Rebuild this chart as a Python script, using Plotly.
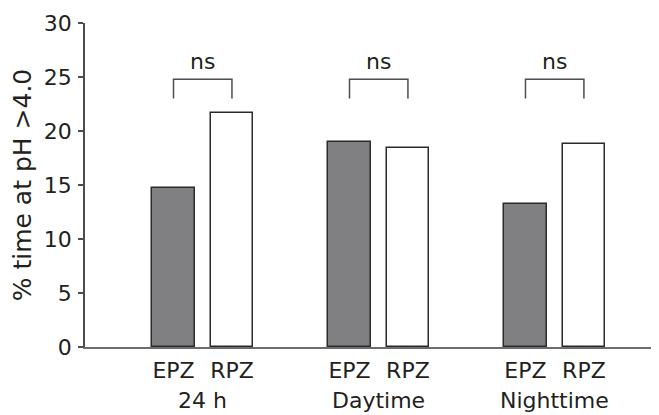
import plotly.graph_objects as go

groups = ["24 h", "Daytime", "Nighttime"]
series_names = ["EPZ", "RPZ"]
epz = [14.7, 19.0, 13.2]
rpz = [21.7, 18.4, 18.8]
sig_labels = ["ns", "ns", "ns"]
y_ticks = [0, 5, 10, 15, 20, 25, 30]

FONT = "DejaVu Sans, Verdana, sans-serif"
TXT = "#231f20"
FS = 22
offset = 0.166
bw = 0.2415
gx = list(range(len(groups)))

fig = go.Figure()
fig.add_trace(go.Bar(x=[g - offset for g in gx], y=epz, width=bw, name="EPZ",
                     marker=dict(color="#808083", line=dict(color="#2b2b2b", width=1.5))))
fig.add_trace(go.Bar(x=[g + offset for g in gx], y=rpz, width=bw, name="RPZ",
                     marker=dict(color="#ffffff", line=dict(color="#2b2b2b", width=1.5))))

tickvals = []
ticktext = []
for g in gx:
    tickvals += [g - offset, g + offset]
    ticktext += series_names

shapes = []
annotations = []
for g, lab in zip(gx, sig_labels):
    y0, y1 = 23.0, 24.8
    shapes.append(dict(type="path", xref="x", yref="y",
                       path=f"M {g-offset},{y0} L {g-offset},{y1} L {g+offset},{y1} L {g+offset},{y0}",
                       line=dict(color="#4d4d4d", width=1.5)))
    annotations.append(dict(x=g, y=26.4, xref="x", yref="y", text=lab, showarrow=False,
                            font=dict(family=FONT, size=FS, color=TXT), yanchor="middle"))
    annotations.append(dict(x=g, y=-0.165, xref="x", yref="paper", text=groups[g], showarrow=False,
                            font=dict(family=FONT, size=FS, color=TXT), yanchor="middle"))

fig.update_layout(
    width=651, height=407,
    margin=dict(l=77, r=1, t=15, b=68),
    paper_bgcolor="white", plot_bgcolor="white",
    showlegend=False, bargap=0,
    font=dict(family=FONT, size=FS, color=TXT),
    shapes=shapes, annotations=annotations,
    xaxis=dict(range=[-0.669, 2.587], tickvals=tickvals, ticktext=ticktext, automargin=False,
               showline=True, linecolor="#6d6d6d", linewidth=1.5, ticks="",
               showgrid=False, zeroline=False, tickfont=dict(size=FS, color=TXT),
               ticklabelstandoff=3),
    yaxis=dict(range=[0, 30], tickvals=y_ticks, showline=True, linecolor="#4d4d4d", automargin=False,
               linewidth=1.5, ticks="outside", ticklen=5, tickwidth=1.5, tickcolor="#4d4d4d",
               showgrid=False, zeroline=False, tickfont=dict(size=FS, color=TXT),
               ticklabelstandoff=2,
               title=dict(text="% time at pH >4.0", font=dict(size=25, color=TXT), standoff=7)),
)
fig.write_html("out.html")
